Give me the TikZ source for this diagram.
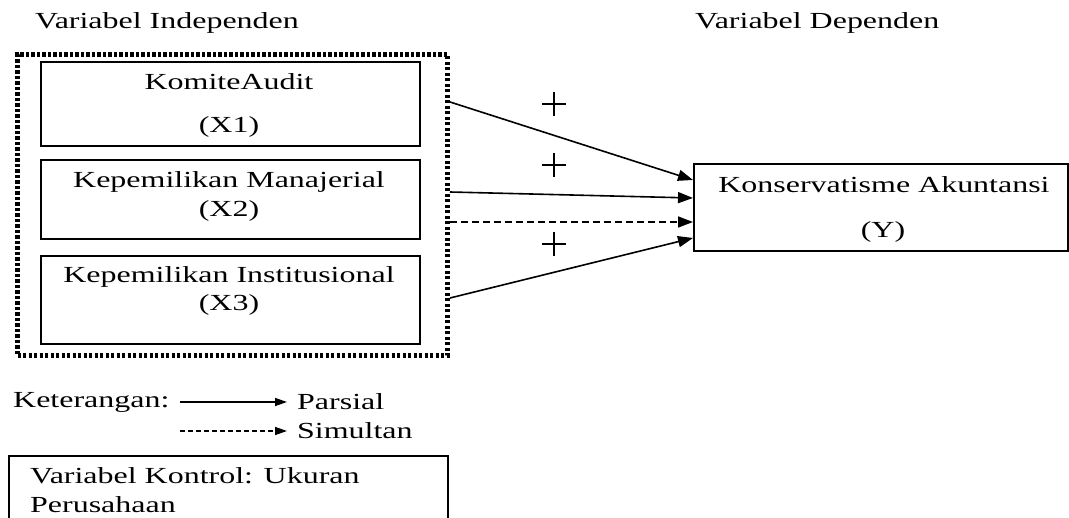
\documentclass[tikz,border=0pt]{standalone}
\usepackage{fontspec}
\setmainfont{Liberation Serif}
\usetikzlibrary{arrows.meta}
\newcommand{\wx}[1]{\scalebox{1.39}[1]{#1}}
\begin{document}
\begin{tikzpicture}[x=1pt,y=-1pt,
  txt/.style={inner sep=0pt, font=\fontsize{23}{27}\selectfont},
  plusmark/.style={minimum size=24pt, inner sep=0pt,
    path picture={\draw[line width=1.4pt] (path picture bounding box.west) -- (path picture bounding box.east)
      (path picture bounding box.north) -- (path picture bounding box.south);}},
  box/.style={draw, line width=2pt, inner sep=0pt},
  arr/.style={line width=1.6pt, -{Triangle[length=15pt,width=11pt]}},
  larr/.style={line width=1.4pt, -{Triangle[length=12pt,width=8pt]}},
  dotbox/.style={draw, line width=5pt, dash pattern=on 3.4pt off 2.1pt, inner sep=0pt}]
\clip (0,0) rectangle (1069,518);
% titles
\node[txt, anchor=west] (ti) at (35,23) {\wx{Variabel Independen}};
\node[txt, anchor=west] (td) at (695,23) {\wx{Variabel Dependen}};
% dotted group
\node[dotbox, minimum width=430pt, minimum height=301pt, anchor=north west] (dot) at (15,52) {};
% independent boxes
\node[box, minimum width=379pt, minimum height=84pt, anchor=north west] (x1) at (40,61) {};
\node[box, minimum width=379pt, minimum height=79pt, anchor=north west] (x2) at (40,159) {};
\node[box, minimum width=379pt, minimum height=88pt, anchor=north west] (x3) at (40,255) {};
\node[txt] (x1a) at (229,82) {\wx{KomiteAudit}};
\node[txt] (x1b) at (229,127) {\wx{(X1)}};
\node[txt] (x2a) at (229,182) {\wx{Kepemilikan Manajerial}};
\node[txt] (x2b) at (229,211) {\wx{(X2)}};
\node[txt] (x3a) at (229,277) {\wx{Kepemilikan Institusional}};
\node[txt] (x3b) at (229,305) {\wx{(X3)}};
% dependent box
\node[box, minimum width=374pt, minimum height=87pt, anchor=north west] (y) at (693,163) {};
\node[txt] (ya) at (884,185) {\wx{Konservatisme Akuntansi}};
\node[txt] (yb) at (883,232) {\wx{(Y)}};
% arrows
\draw[arr] (dot.east |- 0,102) -- (y.west |- 0,180);
\draw[arr] (dot.east |- 0,192) -- (y.west |- 0,198);
\draw[arr, dash pattern=on 7pt off 4pt] (dot.east |- 0,222) -- (y.west |- 0,222);
\draw[arr] (dot.east |- 0,298) -- (y.west |- 0,238);
% plus signs
\node[plusmark] (p1) at (554,104) {};
\node[plusmark] (p2) at (554,165) {};
\node[plusmark] (p3) at (554,244) {};
% legend
\node[txt, anchor=west] (ket) at (13,402) {\wx{Keterangan:}};
\coordinate (l1s) at (180,402);
\coordinate (l1e) at (287,402);
\coordinate (l2s) at (180,431);
\coordinate (l2e) at (287,431);
\draw[larr] (l1s) -- (l1e);
\draw[larr, dash pattern=on 5pt off 3pt] (l2s) -- (l2e);
\node[txt, anchor=west] (par) at (297,402) {\wx{Parsial}};
\node[txt, anchor=west] (sim) at (297,431) {\wx{Simultan}};
% control box
\node[box, minimum width=439pt, minimum height=80pt, anchor=north west] (ctrl) at (8,455) {};
\node[txt, anchor=west] (c1) at (30,476) {\wx{Variabel Kontrol: Ukuran}};
\node[txt, anchor=west] (c2) at (30,505) {\wx{Perusahaan}};
\end{tikzpicture}
\end{document}
